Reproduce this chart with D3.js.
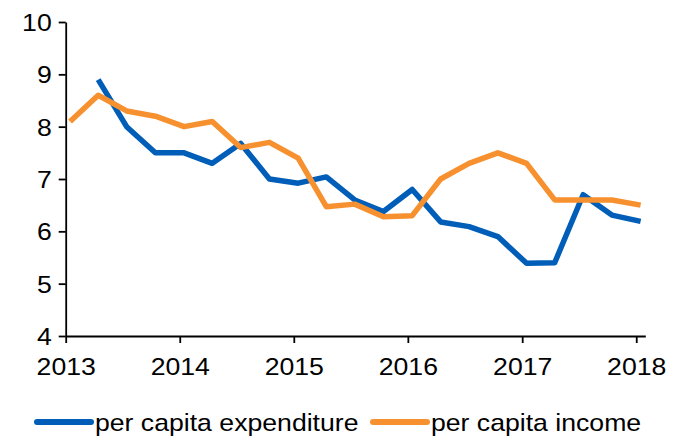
<!DOCTYPE html>
<html>
<head>
<meta charset="utf-8">
<script src="https://cdn.jsdelivr.net/npm/d3@7"></script>
<style>
  body { margin: 0; background: #fff; }
  text { font-family: "Liberation Sans", Arial, sans-serif; fill: #000; }
</style>
</head>
<body>
<div id="container"></div>
<script>
let w = 691;
let h = 436;

// quarterly observations (Jan, Apr, Jul, Oct)
let dates = [
  "2013-01-15","2013-04-15","2013-07-15","2013-10-15",
  "2014-01-15","2014-04-15","2014-07-15","2014-10-15",
  "2015-01-15","2015-04-15","2015-07-15","2015-10-15",
  "2016-01-15","2016-04-15","2016-07-15","2016-10-15",
  "2017-01-15","2017-04-15","2017-07-15","2017-10-15",
  "2018-01-15"
];
let expenditure = [null, 8.9, 8.0, 7.5, 7.5, 7.3, 7.68, 7.0, 6.92, 7.04, 6.6, 6.38,
  6.8, 6.18, 6.09, 5.9, 5.39, 5.4, 6.7, 6.31, 6.19];
let income = [8.1, 8.6, 8.3, 8.2, 8.0, 8.1, 7.6, 7.7, 7.4, 6.47, 6.52, 6.28,
  6.3, 7.0, 7.3, 7.5, 7.3, 6.6, 6.6, 6.6, 6.5];
let yearTicks = [2013, 2014, 2015, 2016, 2017, 2018];
let yTicks = [4, 5, 6, 7, 8, 9, 10];
let seriesNames = ["per capita expenditure", "per capita income"];
let colors = ["#005eb8", "#f7912f"];

let fontSize = 24;
let stretch = 1.11; // glyphs in the picture are a bit wide

let viz = d3.select("#container")
  .append("svg")
    .attr("width", w)
    .attr("height", h)
;

let parse = d3.utcParse("%Y-%m-%d");
let xScale = d3.scaleUtc()
  .domain([Date.UTC(2013, 0, 1), Date.UTC(2018, 0, 30)])
  .range([65.7, 645.3]);
let yScale = d3.scaleLinear().domain([4, 10]).range([336, 22]);

// y axis
let yAxis = d3.axisLeft(yScale).tickValues(yTicks).tickFormat(d3.format("d"))
  .tickSize(7).tickSizeOuter(0);
let yAxisGroup = viz.append("g").attr("transform", "translate(65.7,0)").call(yAxis);
yAxisGroup.selectAll("text")
  .attr("font-size", fontSize)
  .attr("x", -14 / stretch)
  .attr("dy", "0.35em")
  .attr("transform", "scale(" + stretch + ",1)");

// x axis
let xAxis = d3.axisBottom(xScale)
  .tickValues(yearTicks.map(y => Date.UTC(y, 0, 1)))
  .tickFormat(d => new Date(d).getUTCFullYear())
  .tickSize(7).tickSizeOuter(0);
let xAxisGroup = viz.append("g").attr("transform", "translate(0,336)").call(xAxis);
xAxisGroup.selectAll("text")
  .attr("font-size", fontSize)
  .attr("y", 22)
  .attr("transform", "scale(" + stretch + ",1)");

viz.selectAll(".domain, .tick line").attr("stroke", "#000").attr("stroke-width", 1.8);
viz.selectAll("text").attr("fill", "#000");

// lines
let line = d3.line()
  .defined(d => d.v != null)
  .x(d => xScale(d.t))
  .y(d => yScale(d.v));

[expenditure, income].forEach(function(vals, i){
  let pts = vals.map((v, j) => ({t: parse(dates[j]), v: v}));
  viz.append("path")
    .datum(pts)
    .attr("d", line)
    .attr("fill", "none")
    .attr("stroke", colors[i])
    .attr("stroke-width", 5.5)
    .attr("stroke-linejoin", "round");
});

// legend
let legendX = [37, 373];
seriesNames.forEach(function(name, i){
  let g = viz.append("g").attr("transform", "translate(" + legendX[i] + ",422)");
  g.append("line")
    .attr("x1", 0).attr("x2", 54)
    .attr("stroke", colors[i])
    .attr("stroke-width", 6)
    .attr("stroke-linecap", "round");
  g.append("text")
    .attr("x", 58 / stretch)
    .attr("y", 8.5)
    .attr("font-size", fontSize)
    .attr("transform", "scale(" + stretch + ",1)")
    .text(name);
});
</script>
</body>
</html>
